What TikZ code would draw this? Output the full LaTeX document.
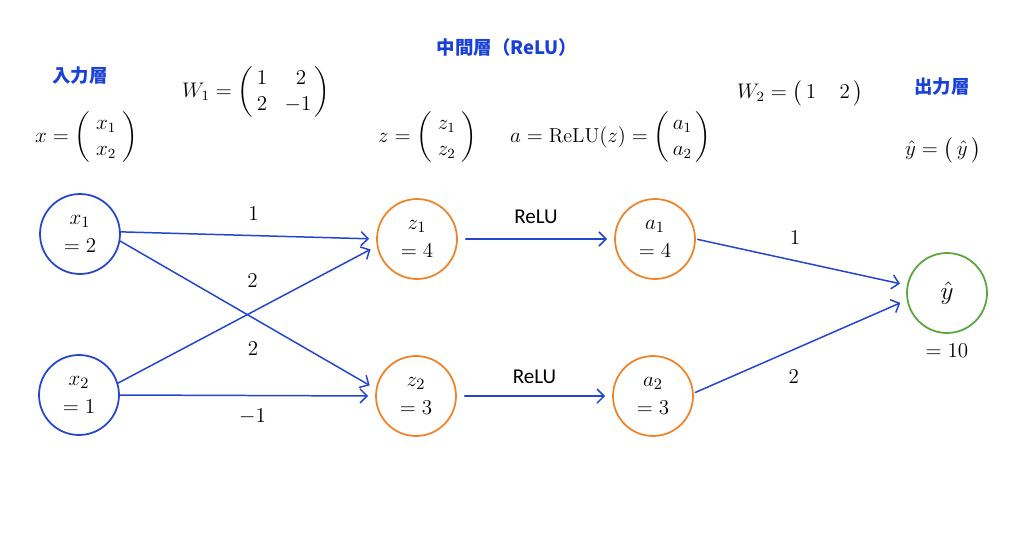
\documentclass[tikz,border=0pt]{standalone}
\usepackage{amsmath}
\usepackage{fontspec}
\newfontfamily\jpfont{Noto Sans CJK JP}
\newfontfamily\relufont{Carlito}
\usetikzlibrary{arrows.meta}
\definecolor{netblue}{RGB}{35,70,205}
\definecolor{headblue}{RGB}{25,65,215}
\definecolor{relorange}{RGB}{240,130,40}
\definecolor{outgreen}{RGB}{90,165,60}
\tikzset{
  unit/.style={circle, draw, line width=1pt, minimum size=1.6cm, inner sep=0pt, align=center, font=\fontsize{13}{16}\selectfont},
  inunit/.style={unit, draw=netblue},
  hidunit/.style={unit, draw=relorange},
  outunit/.style={unit, draw=outgreen},
  conn/.style={->, draw=netblue, line width=0.85pt, shorten >=4pt},
  heading/.style={text=headblue, font=\jpfont\bfseries\fontsize{10.5}{12}\selectfont},
  wlabel/.style={font=\fontsize{12}{14}\selectfont}
}
\begin{document}
\begin{tikzpicture}[x=0.02cm, y=-0.02cm, font=\fontsize{11.5}{15}\selectfont, line join=round, line cap=round, >={Straight Barb[length=4pt,width=8pt]}]
    \useasboundingbox (0,0) rectangle (1024,537);
    % 見出し
    \node[heading] (hin) at (80,76) {入力層};
    \node[heading] (hmid) at (507,47) {中間層（ReLU）};
    \node[heading] (hout) at (942,87) {出力層};
    % 数式
    \node[anchor=west] (fx) at (29,137) {$x=\begin{pmatrix}\; x_1\;\\ \; x_2\; \end{pmatrix}$};
    \node[anchor=west] (fw1) at (176,92) {$W_1=\begin{pmatrix}\, 1 & \;2\,\\ \, 2 & -1\, \end{pmatrix}$};
    \node[anchor=west] (fz) at (372,137) {$z=\begin{pmatrix}\; z_1\;\\ \; z_2\; \end{pmatrix}$};
    \node[anchor=west] (fa) at (504,137) {$a=\mathrm{ReLU}(z)=\begin{pmatrix}\, a_1\,\\ \, a_2\, \end{pmatrix}$};
    \node[anchor=west] (fw2) at (731,93) {$W_2=\begin{pmatrix}\, 1 & \;2\, \end{pmatrix}$};
    \node[anchor=west] (fy) at (899,150) {$\hat{y}=\begin{pmatrix}\, \hat{y}\, \end{pmatrix}$};
    % ユニット
    \node[inunit] (x1) at (80,234) {$x_1$\\$=2$};
    \node[inunit] (x2) at (79,395) {$x_2$\\$=1$};
    \node[hidunit] (z1) at (417,239) {$z_1$\\$=4$};
    \node[hidunit] (z2) at (416,396) {$z_2$\\$=3$};
    \node[hidunit] (a1) at (655,239) {$a_1$\\$=4$};
    \node[hidunit] (a2) at (653,396) {$a_2$\\$=3$};
    \node[outunit, font=\fontsize{15}{17}\selectfont, label={[font=\fontsize{12.5}{14}\selectfont, yshift=-2pt]below:$=10$}] (yh) at (947,293) {$\hat{y}$};
    % 結合
    \draw[conn] (x1.3) -- node[wlabel, pos=0.52, above=5pt] {$1$} (z1.west);
    \draw[conn] (x1.-10) -- node[wlabel, pos=0.52, below=10pt] {$2$} (z2.170);
    \draw[conn] (x2.17) -- node[wlabel, pos=0.52, above=10pt] {$2$} (z1.190);
    \draw[conn] (x2.east) -- node[wlabel, pos=0.52, below=4pt] {$-1$} (z2.west);
    \draw[conn, shorten <=4.5pt] (z1.east) -- node[above=5pt, font=\relufont\fontsize{12}{14}\selectfont] {ReLU} (a1.west);
    \draw[conn, shorten <=4.5pt] (z2.east) -- node[above=3.5pt, font=\relufont\fontsize{12}{14}\selectfont] {ReLU} (a2.west);
    \draw[conn, shorten <=1pt] (a1.east) -- node[wlabel, pos=0.47, above=5.5pt] {$1$} (yh.169);
    \draw[conn, shorten <=1pt] (a2.4) -- node[wlabel, pos=0.47, below=8pt] {$2$} (yh.190);
\end{tikzpicture}
\end{document}
